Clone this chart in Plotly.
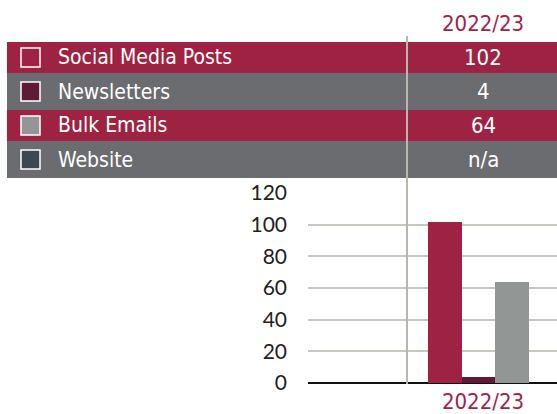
import plotly.graph_objects as go

# ---- data ----
categories = ["2022/23"]
series_names = ["Social Media Posts", "Newsletters", "Bulk Emails", "Website"]
series_values = [102, 4, 64, None]  # Website: n/a
series_colors = ["#9e2342", "#5f1a36", "#929795", "#3b4852"]
row_colors = ["#9e2342", "#6b6c70", "#9e2342", "#6b6c70"]
y_ticks = [0, 20, 40, 60, 80, 100, 120]

CRIMSON = "#a02447"
COND = "DejaVu Sans Condensed, DejaVu Sans, sans-serif"

W, H = 557, 414
PL, PR, PT, PB = 308, 557, 193, 383


def px(x):
    return (x - PL) / (PR - PL)


def py(y):
    return (PB - y) / (PB - PT)


fig = go.Figure()
for name, val, col in zip(series_names, series_values, series_colors):
    fig.add_trace(go.Bar(
        x=categories, y=[val], name=name, marker_color=col,
        marker_line_width=0, showlegend=False, hoverinfo="skip",
    ))

shapes = []
annotations = []
row_bounds = [42, 73, 110, 141, 178]
for i, (name, val) in enumerate(zip(series_names, series_values)):
    y0, y1 = row_bounds[i], row_bounds[i + 1]
    yc = (y0 + y1) / 2
    shapes.append(dict(type="rect", xref="paper", yref="paper",
                       x0=px(7), x1=px(557), y0=py(y1), y1=py(y0),
                       fillcolor=row_colors[i], line_width=0, layer="above"))
    shapes.append(dict(type="rect", xref="paper", yref="paper",
                       x0=px(21), x1=px(40), y0=py(yc + 9.5), y1=py(yc - 9.5),
                       fillcolor=series_colors[i], line=dict(color="white", width=1.5),
                       layer="above"))
    annotations.append(dict(text=name, xref="paper", yref="paper", x=px(56), y=py(yc),
                            xanchor="left", yanchor="middle", showarrow=False,
                            font=dict(family=COND, size=21, color="white")))
    annotations.append(dict(text=("n/a" if val is None else str(val)), xref="paper", yref="paper",
                            x=px(483), y=py(yc), xanchor="center", yanchor="middle",
                            showarrow=False, font=dict(family=COND, size=22, color="white")))

annotations.append(dict(text=categories[0], xref="paper", yref="paper", x=px(483), y=py(23),
                        xanchor="center", yanchor="middle", showarrow=False,
                        font=dict(family=COND, size=22, color=CRIMSON)))

# vertical divider
shapes.append(dict(type="line", xref="paper", yref="paper", x0=px(407), x1=px(407),
                   y0=py(384), y1=py(36), line=dict(color="#b9b6af", width=2), layer="above"))

fig.update_layout(
    width=W, height=H,
    margin=dict(l=PL, r=W - PR, t=PT, b=H - PB),
    paper_bgcolor="white", plot_bgcolor="white",
    barmode="group", bargap=0, bargroupgap=0,
    shapes=shapes, annotations=annotations,
    xaxis=dict(range=[-1.395, 0.462], showgrid=False, zeroline=False, showline=False,
               ticks="", ticklabelshift=-12, ticklabelstandoff=3,
               tickfont=dict(family=COND, size=22, color=CRIMSON)),
    yaxis=dict(range=[0, 120], tickvals=y_ticks, showgrid=True, gridcolor="#c9c6bf",
               gridwidth=2, zeroline=True, zerolinecolor="#111111", zerolinewidth=2,
               showline=False, ticks="", ticklabelstandoff=20,
               tickfont=dict(family="Lato, Noto Sans, sans-serif", size=21, color="#222222")),
)

fig.write_html("out.html", config={"displayModeBar": False},
               post_script="document.body.style.margin='0';document.body.style.overflow='hidden';")
